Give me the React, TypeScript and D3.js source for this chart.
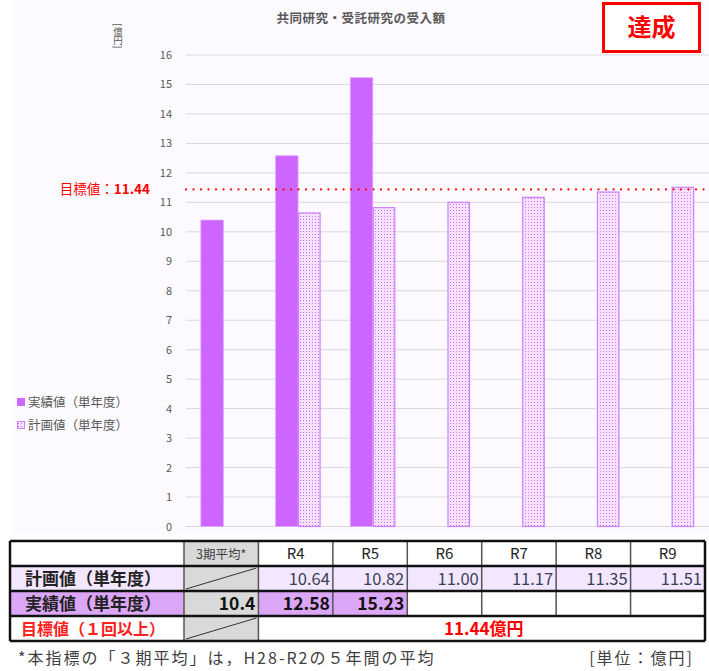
import React from "react";
import * as d3 from "d3";

const categories = ["3期平均", "R4", "R5", "R6", "R7", "R8", "R9"];
const headerLabels = ["3期平均*", "R4", "R5", "R6", "R7", "R8", "R9"];
const actualValues: (number | null)[] = [10.4, 12.58, 15.23, null, null, null, null];
const actualLabels = ["10.4", "12.58", "15.23", "", "", "", ""];
const planValues: (number | null)[] = [null, 10.64, 10.82, 11.0, 11.17, 11.35, 11.51];
const targetValue = 11.44;
const yTicks = [0, 1, 2, 3, 4, 5, 6, 7, 8, 9, 10, 11, 12, 13, 14, 15, 16];
const title = "共同研究・受託研究の受入額";
const seriesNames = ["実績値（単年度）", "計画値（単年度）"];

const JP = "'Noto Sans CJK JP', 'Noto Sans', sans-serif";
const PURPLE = "#cc66ff";

export default function App() {
  const W = 709, H = 671;
  const x = d3.scaleBand<string>().domain(categories).range([186, 709]).padding(0);
  const y = d3.scaleLinear().domain([0, 16]).range([526.5, 55]);
  const bw = 22.5;
  const tx = d3.scaleBand<string>().domain(categories).range([184, 705]).padding(0);
  const rows = [541, 566, 591, 616, 641];
  const labelLeft = 10;

  return (
    <svg width={W} height={H} style={{ position: "absolute", left: 0, top: 0 }}>
      <defs>
        <pattern id="dots" width="3" height="3" patternUnits="userSpaceOnUse">
          <rect width="3" height="3" fill="#f8e8ff" />
          <rect x="0" y="0" width="1" height="1" fill="#cc66f5" />
          <rect x="1.5" y="1.5" width="1" height="1" fill="#ecc2ff" />
        </pattern>
      </defs>
      <rect x={0} y={0} width={W} height={H} fill="#ffffff" />
      <rect x={12} y={0} width={697} height={534} fill="#fcfaff" />

      {/* title */}
      <text x={361} y={23} textAnchor="middle" fontFamily={JP} fontSize={12.5} letterSpacing={0.5} fontWeight="bold" fill="#595959">{title}</text>
      <text x={118} y={23} fontFamily={JP} fontSize={9.5} fill="#595959" style={{ writingMode: "vertical-rl" } as any}>[億円]</text>

      {/* grid & ticks */}
      {yTicks.map((t) => (
        <g key={t}>
          <line x1={186} x2={709} y1={y(t)} y2={y(t)} stroke="#d9d9d9" strokeWidth={1} />
          <text x={172} y={y(t) + 4} textAnchor="end" fontFamily={JP} fontSize={11} fill="#595959">{t}</text>
        </g>
      ))}

      {/* bars */}
      {categories.map((c, i) => {
        const cx = (x(c) as number) + x.bandwidth() / 2;
        const a = actualValues[i];
        const p = planValues[i];
        return (
          <g key={c}>
            {a != null && (
              <rect x={cx - bw} y={y(a)} width={bw} height={y(0) - y(a)} fill={PURPLE} stroke="#e0a8ff" strokeWidth={0.8} />
            )}
            {p != null && (
              <rect x={cx + 0.5} y={y(p)} width={bw - 1} height={y(0) - y(p)} fill="url(#dots)" stroke="#cc80ff" strokeWidth={1.2} />
            )}
          </g>
        );
      })}

      {/* target line */}
      <line x1={186} x2={709} y1={y(targetValue)} y2={y(targetValue)} stroke="#ff0000" strokeWidth={2.2} strokeDasharray="0 7.5" strokeLinecap="round" />
      <text x={150} y={y(targetValue) + 5} textAnchor="end" fontFamily={JP} fontSize={13.5} fill="#ff0000">
        目標値：<tspan fontWeight="bold">{targetValue}</tspan>
      </text>

      {/* legend */}
      <rect x={17} y={398} width={8} height={8} fill={PURPLE} />
      <text x={28} y={406.5} fontFamily={JP} fontSize={12.5} fill="#595959">{seriesNames[0]}</text>
      <rect x={17.5} y={421.5} width={7} height={7} fill="url(#dots)" stroke="#cc80ff" strokeWidth={1} />
      <text x={28} y={429.5} fontFamily={JP} fontSize={12.5} fill="#595959">{seriesNames[1]}</text>

      {/* 達成 box */}
      <rect x={603.5} y={3.5} width={96} height={48} fill="#ffffff" stroke="#ff0000" strokeWidth={3} />
      <text x={651.5} y={36} textAnchor="middle" fontFamily={JP} fontSize={24} fontWeight="bold" fill="#ff0000">達成</text>

      {/* table */}
      <g>
        <rect x={labelLeft} y={rows[1]} width={705 - labelLeft} height={rows[2] - rows[1]} fill="#f3e6ff" />
        <rect x={labelLeft} y={rows[2]} width={tx(categories[3])! - labelLeft} height={rows[3] - rows[2]} fill="#dca6f7" />
        <rect x={tx(categories[0])} y={rows[0]} width={tx.bandwidth()} height={rows[4] - rows[0]} fill="#d9d9d9" />
        {[1, 3].map((r) => (
          <line key={r} x1={tx(categories[0])! + 2} y1={rows[r + 1] - 2} x2={tx(categories[0])! + tx.bandwidth() - 2} y2={rows[r] + 2} stroke="#333" strokeWidth={1} />
        ))}
        {categories.map((c, i) => (
          <line key={c} x1={tx(c)} x2={tx(c)} y1={rows[0]} y2={i <= 1 ? rows[4] : rows[3]} stroke="#555" strokeWidth={1.5} />
        ))}
        {rows.map((r, i) => (
          <line key={i} x1={labelLeft} x2={705} y1={r} y2={r} stroke="#111" strokeWidth={2.5} />
        ))}
        <line x1={labelLeft} x2={labelLeft} y1={rows[0]} y2={rows[4]} stroke="#111" strokeWidth={2.5} />
        <line x1={705} x2={705} y1={rows[0]} y2={rows[4]} stroke="#111" strokeWidth={2.5} />

        {categories.map((c, i) => (
          <text key={c} x={tx(c)! + tx.bandwidth() / 2} y={rows[0] + 18} textAnchor="middle" fontFamily={JP}
            fontSize={i === 0 ? 12.5 : 15} fill={i === 0 ? "#404040" : "#222"}>{headerLabels[i]}</text>
        ))}
        <text x={93} y={rows[1] + 19} textAnchor="middle" fontFamily={JP} fontSize={17} fontWeight="bold" fill="#222">計画値（単年度）</text>
        <text x={93} y={rows[2] + 19} textAnchor="middle" fontFamily={JP} fontSize={17} fontWeight="bold" fill="#222">実績値（単年度）</text>
        <text x={93} y={rows[3] + 19} textAnchor="middle" fontFamily={JP} fontSize={16} fontWeight="bold" fill="#ff2020">目標値（１回以上）</text>
        {categories.map((c, i) => planValues[i] != null && (
          <text key={c} x={tx(c)! + tx.bandwidth() - 3} y={rows[1] + 19} textAnchor="end" fontFamily={JP} fontSize={16.5} fill="#3a3f55">{planValues[i]!.toFixed(2)}</text>
        ))}
        {categories.map((c, i) => actualLabels[i] !== "" && (
          <text key={c} x={tx(c)! + tx.bandwidth() - 3} y={rows[2] + 19} textAnchor="end" fontFamily={JP} fontSize={17.5} fontWeight="bold" fill="#111">{actualLabels[i]}</text>
        ))}
        <text x={(tx(categories[1])! + 705) / 2 + 2} y={rows[3] + 19} textAnchor="middle" fontFamily={JP} fontSize={17} fontWeight="bold" fill="#ff0000">{targetValue}億円</text>
      </g>

      {/* footer */}
      <text x={18} y={664} fontFamily={JP} fontSize={16} letterSpacing={2} fill="#404040">*本指標の「３期平均」は，H28-R2の５年間の平均</text>
      <text x={694} y={664} textAnchor="end" fontFamily={JP} fontSize={16} letterSpacing={2} fill="#404040">[単位：億円]</text>
    </svg>
  );
}
